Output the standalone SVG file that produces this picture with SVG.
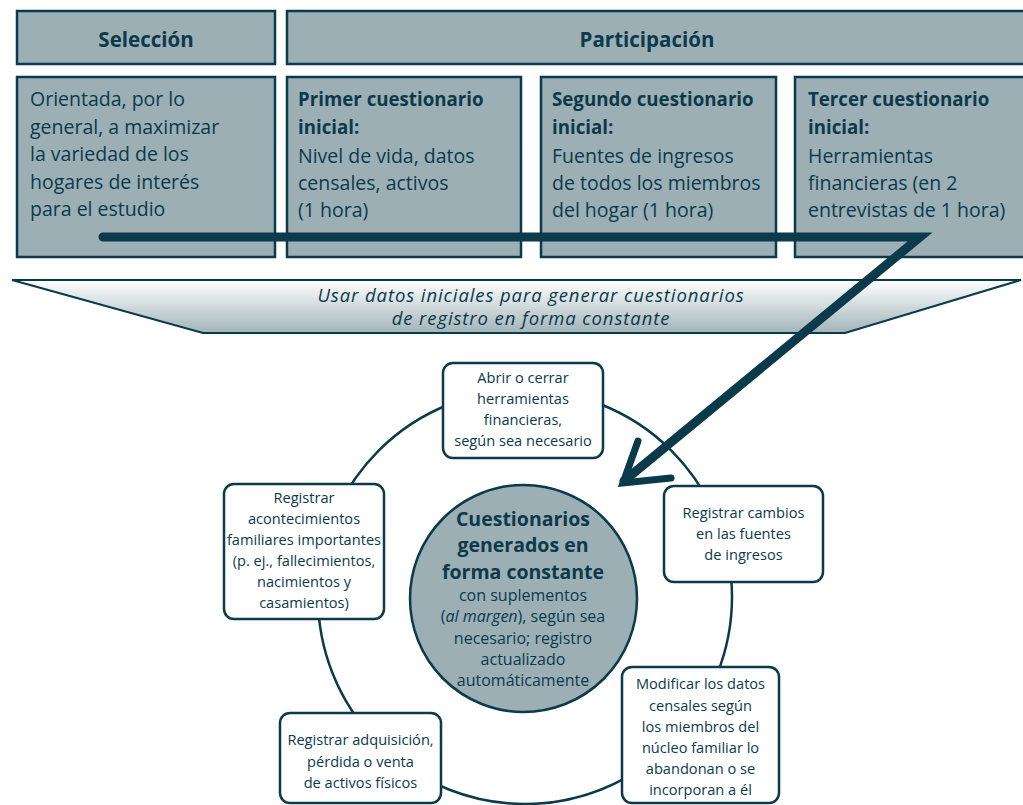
<svg xmlns="http://www.w3.org/2000/svg" width="1023" height="805" viewBox="0 0 1023 805">
<defs>
<linearGradient id="trapGrad" x1="0" y1="0" x2="0" y2="1">
<stop offset="0" stop-color="#ffffff"/>
<stop offset="1" stop-color="#a1b4b9"/>
</linearGradient>
<style>
.box{fill:#9bafb5;stroke:#0b3b4b;stroke-width:2.5}
.node{fill:#ffffff;stroke:#0b3b4b;stroke-width:2.5}
.t{font-family:"Open Sans","Noto Sans","Liberation Sans",sans-serif;fill:#0d3a4a}
.hd{font-size:20.5px;font-weight:bold;text-anchor:middle}
.body{font-size:19.5px}
.bb{font-size:18.7px;font-weight:bold}
.nt{font-size:14.6px;text-anchor:middle}
.ct{font-size:19.5px;font-weight:bold;text-anchor:middle}
.cr{font-size:16px;text-anchor:middle}
.it{font-size:18.5px;font-style:italic;letter-spacing:0.9px;text-anchor:middle}
</style>
</defs>
<rect width="1023" height="805" fill="#ffffff"/>

<g id="seleccion-header">
<rect class="box" x="17" y="11" width="258" height="53"/>
<text class="t hd" x="146" y="47">Selección</text>
</g>
<g id="participacion-header">
<rect class="box" x="287" y="11" width="745" height="53"/>
<text class="t hd" x="647" y="47">Participación</text>
</g>

<g id="seleccion-box">
<rect class="box" x="17" y="77" width="258" height="180"/>
<text class="t body" x="30" y="106">Orientada, por lo</text>
<text class="t body" x="30" y="133.5">general, a maximizar</text>
<text class="t body" x="30" y="161">la variedad de los</text>
<text class="t body" x="30" y="188.5">hogares de interés</text>
<text class="t body" x="30" y="215.5">para el estudio</text>
</g>
<g id="primer-cuestionario">
<rect class="box" x="287" y="77" width="234" height="180"/>
<text class="t bb" x="298" y="106">Primer cuestionario</text>
<text class="t bb" x="298" y="133.5">inicial:</text>
<text class="t body" x="298" y="163">Nivel de vida, datos</text>
<text class="t body" x="298" y="190">censales, activos</text>
<text class="t body" x="298" y="217">(1 hora)</text>
</g>
<g id="segundo-cuestionario">
<rect class="box" x="541" y="77" width="235" height="180"/>
<text class="t bb" x="552" y="106">Segundo cuestionario</text>
<text class="t bb" x="552" y="133.5">inicial:</text>
<text class="t body" x="552" y="163">Fuentes de ingresos</text>
<text class="t body" x="552" y="190">de todos los miembros</text>
<text class="t body" x="552" y="217">del hogar (1 hora)</text>
</g>
<g id="tercer-cuestionario">
<rect class="box" x="795" y="77" width="240" height="180"/>
<text class="t bb" x="808" y="106">Tercer cuestionario</text>
<text class="t bb" x="808" y="133.5">inicial:</text>
<text class="t body" x="808" y="163">Herramientas</text>
<text class="t body" x="808" y="190">financieras (en 2</text>
<text class="t body" x="808" y="217">entrevistas de 1 hora)</text>
</g>

<g id="usar-datos">
<polygon points="12,280 1021,280 845,333 203,333" fill="url(#trapGrad)" stroke="#0b3b4b" stroke-width="2"/>
<text class="t it" x="531" y="302">Usar datos iniciales para generar cuestionarios</text>
<text class="t it" x="531" y="325">de registro en forma constante</text>
</g>

<g id="connectors">
<circle cx="525" cy="597" r="207" fill="none" stroke="#0b3b4b" stroke-width="2.5"/>
</g>

<g id="centro">
<circle cx="523.5" cy="598.5" r="113.5" fill="#9bafb5" stroke="#0b3b4b" stroke-width="2.5"/>
<text class="t ct" x="523" y="526">Cuestionarios</text>
<text class="t ct" x="523" y="552">generados en</text>
<text class="t ct" x="523" y="579">forma constante</text>
<text class="t cr" x="523" y="601">con suplementos</text>
<text class="t cr" x="523" y="622">(<tspan font-style="italic">al margen</tspan>), según sea</text>
<text class="t cr" x="523" y="643.5">necesario; registro</text>
<text class="t cr" x="523" y="665">actualizado</text>
<text class="t cr" x="523" y="686">automáticamente</text>
</g>

<g id="abrir-cerrar">
<rect class="node" x="443" y="363" width="160" height="95" rx="10"/>
<text class="t nt" x="523" y="383">Abrir o cerrar</text>
<text class="t nt" x="523" y="404">herramientas</text>
<text class="t nt" x="523" y="425">financieras,</text>
<text class="t nt" x="523" y="446">según sea necesario</text>
</g>
<g id="registrar-cambios">
<rect class="node" x="664" y="486" width="159" height="96" rx="10"/>
<text class="t nt" x="743.5" y="518">Registrar cambios</text>
<text class="t nt" x="743.5" y="539">en las fuentes</text>
<text class="t nt" x="743.5" y="560">de ingresos</text>
</g>
<g id="registrar-acontecimientos">
<rect class="node" x="224" y="484" width="160" height="135" rx="10"/>
<text class="t nt" x="304" y="503">Registrar</text>
<text class="t nt" x="304" y="524">acontecimientos</text>
<text class="t nt" x="304" y="545">familiares importantes</text>
<text class="t nt" x="304" y="566">(p. ej., fallecimientos,</text>
<text class="t nt" x="304" y="587">nacimientos y</text>
<text class="t nt" x="304" y="607.5">casamientos)</text>
</g>
<g id="registrar-adquisicion">
<rect class="node" x="280" y="713" width="161" height="90" rx="10"/>
<text class="t nt" x="360.5" y="745">Registrar adquisición,</text>
<text class="t nt" x="360.5" y="767">pérdida o venta</text>
<text class="t nt" x="360.5" y="788">de activos físicos</text>
</g>
<g id="modificar-datos">
<rect class="node" x="622" y="667" width="157" height="136" rx="10"/>
<text class="t nt" x="700.5" y="689">Modificar los datos</text>
<text class="t nt" x="700.5" y="711">censales según</text>
<text class="t nt" x="700.5" y="732">los miembros del</text>
<text class="t nt" x="700.5" y="753">núcleo familiar lo</text>
<text class="t nt" x="700.5" y="774">abandonan o se</text>
<text class="t nt" x="700.5" y="795">incorporan a él</text>
</g>

<g id="flecha">
<polyline points="103,237 920,237 624,481" fill="none" stroke="#0b3b4b" stroke-width="9" stroke-linecap="round" stroke-linejoin="miter"/>
<polyline points="638,441 623,483 671,478" fill="none" stroke="#0b3b4b" stroke-width="7" stroke-linecap="round" stroke-linejoin="miter"/>
</g>
</svg>
